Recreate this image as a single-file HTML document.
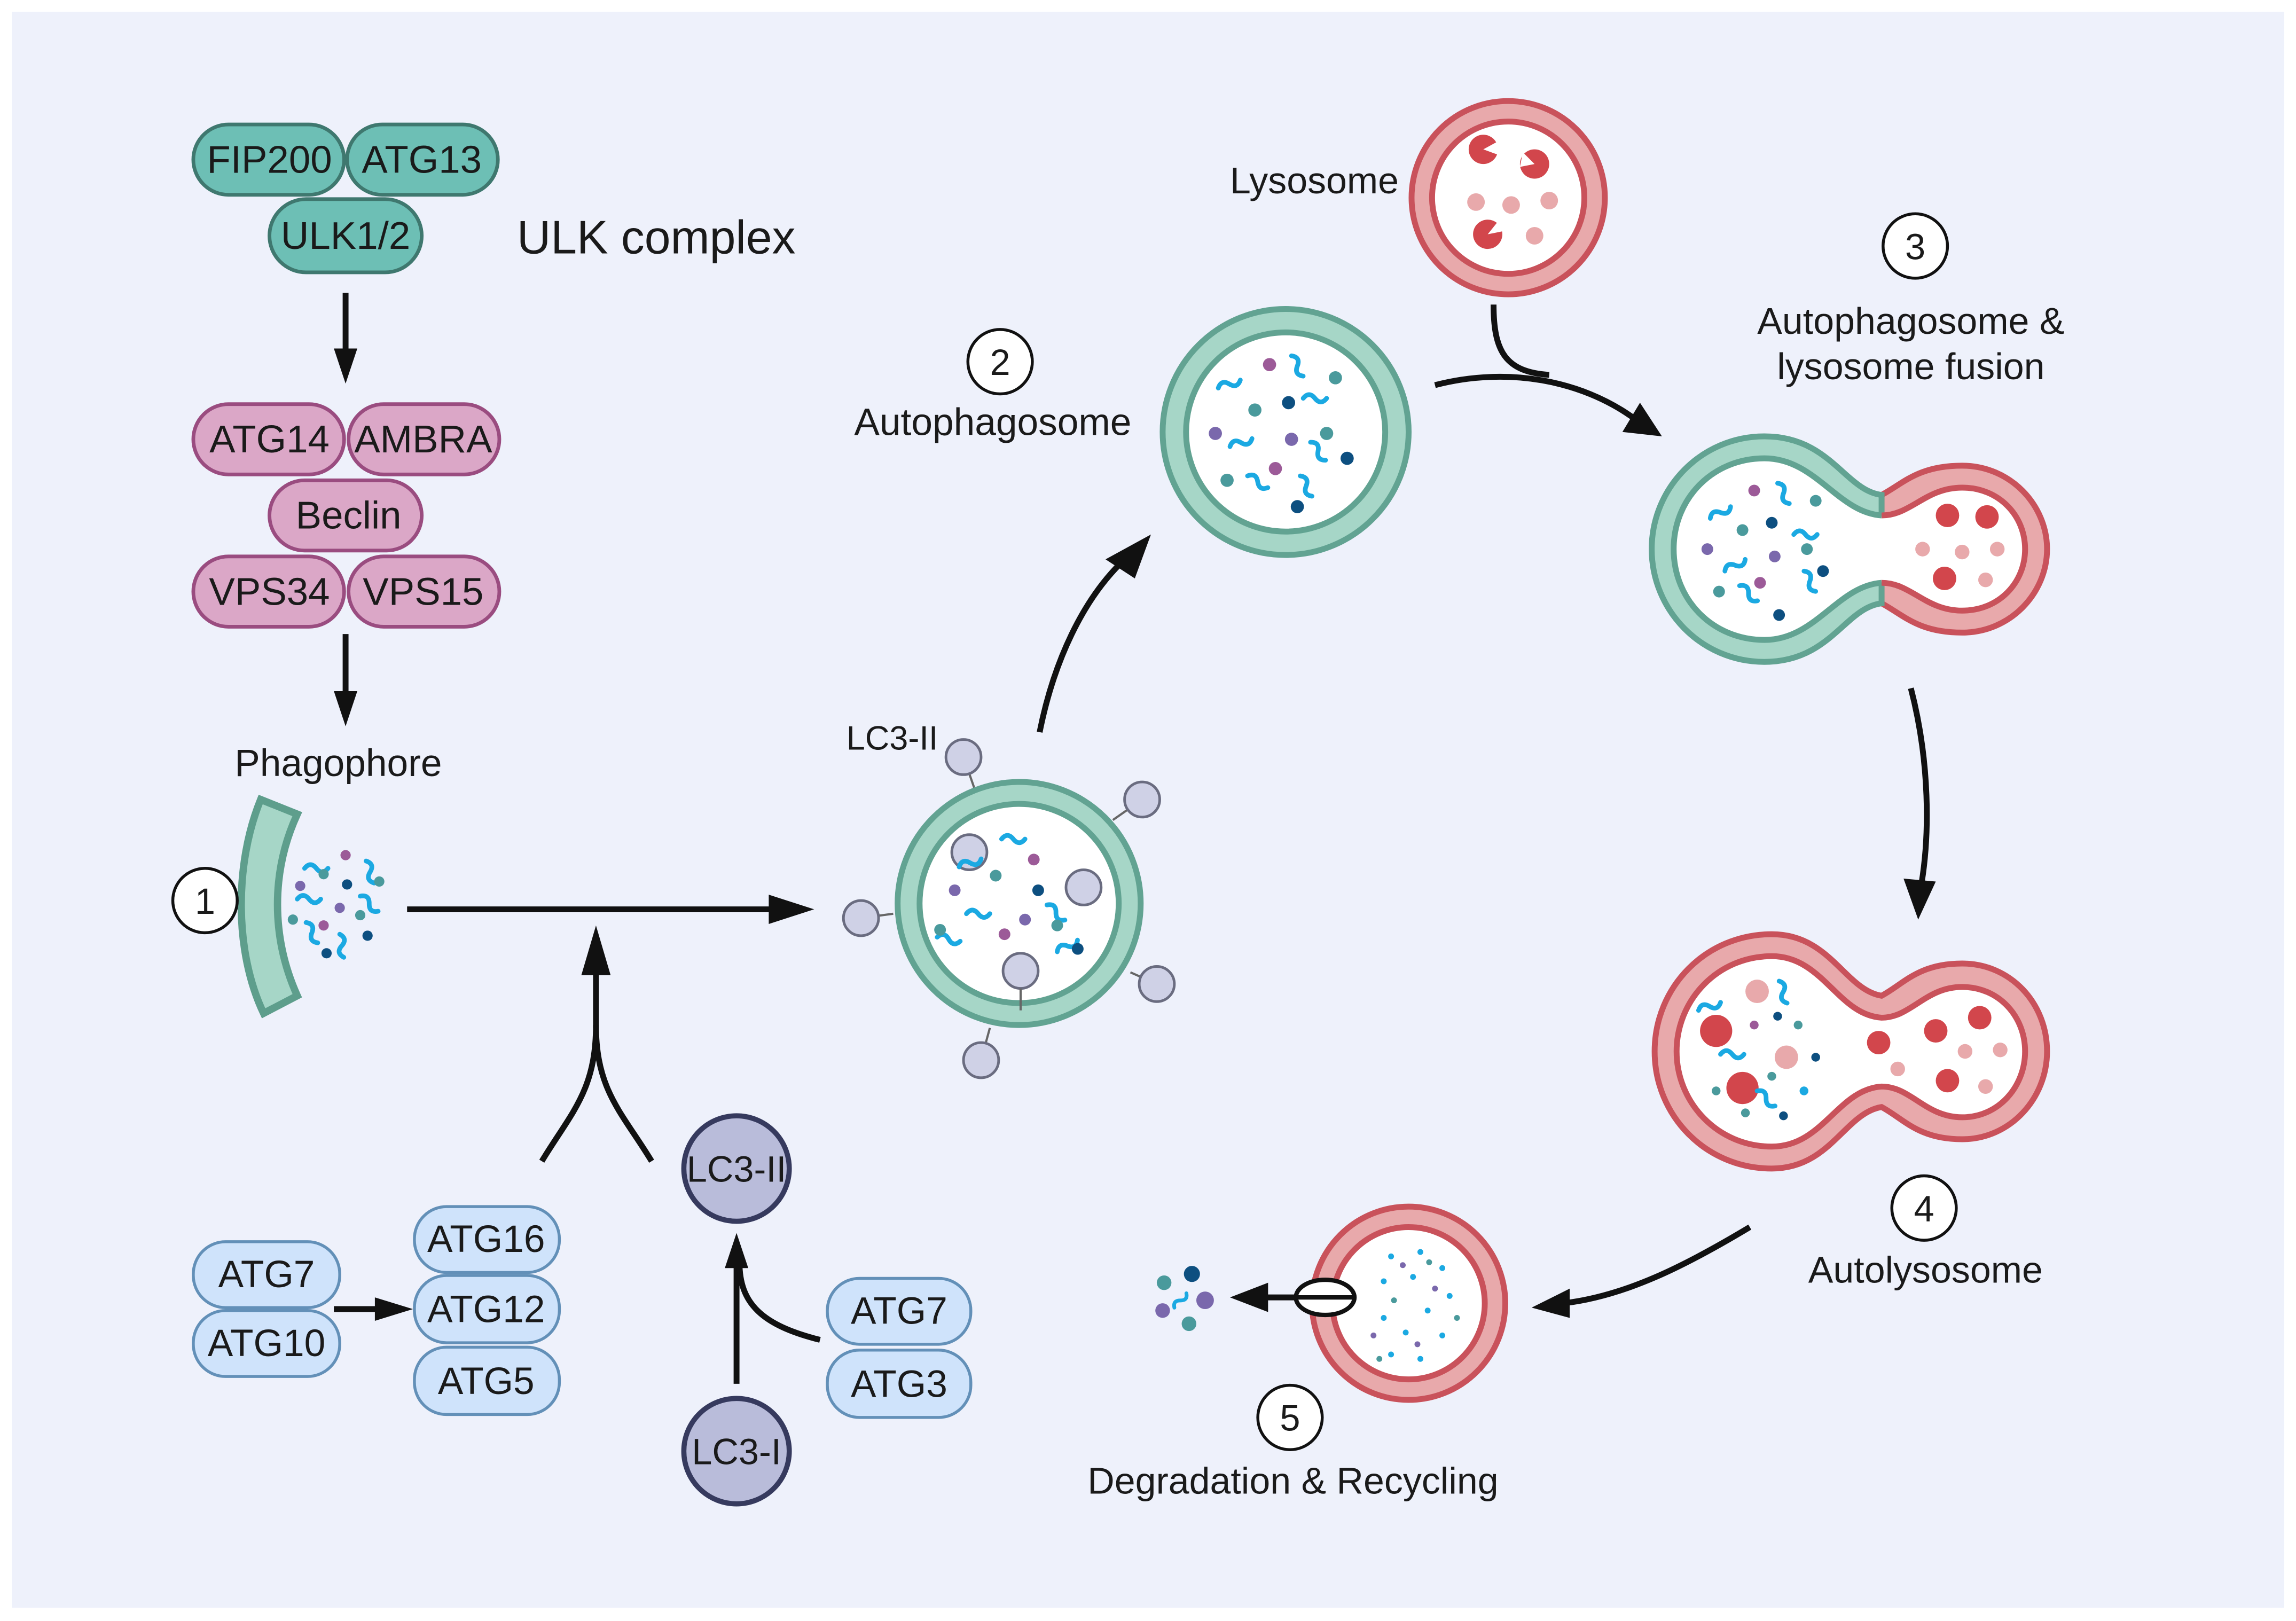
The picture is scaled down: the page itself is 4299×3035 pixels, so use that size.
<!DOCTYPE html>
<html><head><meta charset="utf-8"><style>
html,body{margin:0;padding:0;background:#fff;}
svg{display:block;}
text{font-family:"Liberation Sans",sans-serif;fill:#1a1a1a;}
</style></head><body>
<svg width="4299" height="3035" viewBox="0 0 1568 1107" xmlns="http://www.w3.org/2000/svg">
<defs>
<g id="sq"><path d="M0,0 q4,-5 8,0 t8,0" fill="none" stroke="#1ba9e2" stroke-width="3.2" stroke-linecap="round"/></g>
</defs>
<rect x="0" y="0" width="1568" height="1107" fill="#fff"/>
<rect x="8" y="8" width="1552" height="1090" fill="#eef1fb"/>

<!-- ULK complex -->
<g stroke="#3f786f" stroke-width="2.5" fill="#6dbfb5">
<rect x="132" y="85" width="103" height="48" rx="24"/>
<rect x="237" y="85" width="103" height="48" rx="24"/>
<rect x="184" y="136" width="104" height="50" rx="25"/>
</g>
<g font-size="26.5" text-anchor="middle">
<text x="184" y="118">FIP200</text><text x="288" y="118">ATG13</text><text x="236" y="170">ULK1/2</text>
</g>
<text x="353" y="173" font-size="32">ULK complex</text>

<!-- PI3K complex -->
<g stroke="#9a4c80" stroke-width="2.5" fill="#dba7c7">
<rect x="132" y="276" width="103" height="48" rx="24"/>
<rect x="238" y="276" width="103" height="48" rx="24"/>
<rect x="184" y="328" width="104" height="48" rx="24"/>
<rect x="132" y="380" width="103" height="48" rx="24"/>
<rect x="238" y="380" width="103" height="48" rx="24"/>
</g>
<g font-size="26.5" text-anchor="middle">
<text x="184" y="309">ATG14</text><text x="289" y="309">AMBRA</text><text x="238" y="361">Beclin</text>
<text x="184" y="413">VPS34</text><text x="289" y="413">VPS15</text>
</g>

<!-- arrows -->
<g stroke="#111" stroke-width="4" fill="none">
<line x1="236" y1="200" x2="236" y2="240"/>
<line x1="236" y1="433" x2="236" y2="476"/>
<line x1="278" y1="621" x2="530" y2="621"/>
<line x1="407" y1="702" x2="407" y2="660"/>
<path d="M370,793 C390,760 407,745 407,700"/>
<path d="M445,793 C425,760 407,745 407,700"/>
<line x1="228" y1="894" x2="262" y2="894"/>
<line x1="503" y1="945" x2="503" y2="862"/>
<path d="M560,915 C520,905 505,890 505,862"/>
<path d="M710,500 C720,450 740,410 765,385"/>
<path d="M980,263 C1030,250 1080,260 1115,285"/>
<path d="M1020,208 C1020,240 1028,254 1058,256"/>
<path d="M1305,470 C1318,520 1318,570 1312,605"/>
<path d="M1195,838 C1150,865 1110,885 1068,890"/>
<line x1="930" y1="886" x2="860" y2="886"/>
</g>
<g fill="#111">
<polygon points="228,238 244,238 236,262"/>
<polygon points="228,472 244,472 236,496"/>
<polygon points="525,611 525,631 556,621"/>
<polygon points="397,666 417,666 407,632"/>
<polygon points="256,886 256,902 282,894"/>
<polygon points="495,866 511,866 503,842"/>
<polygon points="755,382 775,395 786,365"/>
<polygon points="1108,295 1120,275 1135,298"/>
<polygon points="1300,600 1322,602 1310,628"/>
<polygon points="1072,880 1072,900 1046,893"/>
<polygon points="866,876 866,896 840,886"/>
</g>

<text x="231" y="530" font-size="26" text-anchor="middle">Phagophore</text>
<!-- phagophore -->
<path d="M178,546 C160,590 160,650 180,692 L203,680 C185,640 185,595 203,556 Z" fill="#a6d6c7" stroke="#5e9e8c" stroke-width="5"/>
<g>
<use href="#sq" x="208" y="593"/><use href="#sq" x="203" y="614"/><use href="#sq" transform="translate(250,588) rotate(70)"/>
<use href="#sq" transform="translate(246,612) rotate(40)"/><use href="#sq" transform="translate(209,630) rotate(60)"/><use href="#sq" transform="translate(232,638) rotate(80)"/>
<circle cx="236" cy="584" r="3.5" fill="#9c5a98"/><circle cx="221" cy="597" r="3.5" fill="#4a9a9c"/><circle cx="237" cy="604" r="3.5" fill="#0d4f80"/>
<circle cx="205" cy="605" r="3.5" fill="#7a68ac"/><circle cx="259" cy="602" r="3.5" fill="#4a9a9c"/><circle cx="232" cy="620" r="3.5" fill="#7a68ac"/>
<circle cx="200" cy="628" r="3.5" fill="#4a9a9c"/><circle cx="246" cy="625" r="3.5" fill="#4a9a9c"/><circle cx="221" cy="632" r="3.5" fill="#9c5a98"/>
<circle cx="251" cy="639" r="3.5" fill="#0d4f80"/><circle cx="223" cy="651" r="3.5" fill="#0d4f80"/>
</g>

<!-- numbered circles -->
<g fill="#fff" stroke="#111" stroke-width="2">
<circle cx="140" cy="615" r="22"/><circle cx="683" cy="247" r="22"/><circle cx="1308" cy="168" r="22"/>
<circle cx="1314" cy="825" r="22"/><circle cx="881" cy="968" r="22"/>
</g>
<g font-size="25" text-anchor="middle">
<text x="140" y="624">1</text><text x="683" y="256">2</text><text x="1308" y="177">3</text>
<text x="1314" y="834">4</text><text x="881" y="977">5</text>
</g>

<!-- ATG blue pills -->
<g stroke="#6390b8" stroke-width="2" fill="#cfe3fb">
<rect x="132" y="848" width="100" height="45" rx="22"/>
<rect x="132" y="895" width="100" height="45" rx="22"/>
<rect x="283" y="824" width="99" height="45" rx="22"/>
<rect x="283" y="871" width="99" height="46" rx="22"/>
<rect x="283" y="920" width="99" height="46" rx="22"/>
<rect x="565" y="873" width="98" height="45" rx="22"/>
<rect x="565" y="922" width="98" height="46" rx="22"/>
</g>
<g font-size="26" text-anchor="middle">
<text x="182" y="879">ATG7</text><text x="182" y="926">ATG10</text>
<text x="332" y="855">ATG16</text><text x="332" y="903">ATG12</text><text x="332" y="952">ATG5</text>
<text x="614" y="904">ATG7</text><text x="614" y="954">ATG3</text>
</g>
<g fill="#b9bcda" stroke="#363a5e" stroke-width="3.5">
<circle cx="503" cy="798" r="36"/><circle cx="503" cy="991" r="36"/>
</g>
<g font-size="25" text-anchor="middle"><text x="503" y="807">LC3-II</text><text x="503" y="1000">LC3-I</text></g>

<!-- LC3-II vesicle -->
<g stroke="#666" stroke-width="1.5">
<line x1="658" y1="517" x2="666" y2="540"/><line x1="780" y1="546" x2="760" y2="560"/>
<line x1="588" y1="627" x2="610" y2="624"/><line x1="790" y1="672" x2="772" y2="664"/>
<line x1="670" y1="724" x2="676" y2="702"/>
</g>
<circle cx="696" cy="617" r="83" fill="#a6d6c7" stroke="#62a392" stroke-width="4"/>
<circle cx="696" cy="617" r="68" fill="#fff" stroke="#62a392" stroke-width="4"/>
<g fill="#cfd1e6" stroke="#6a6c80" stroke-width="1.8">
<circle cx="658" cy="517" r="12"/><circle cx="780" cy="546" r="12"/><circle cx="588" cy="627" r="12"/>
<circle cx="790" cy="672" r="12"/><circle cx="670" cy="724" r="12"/>
<circle cx="662" cy="582" r="12"/><circle cx="740" cy="606" r="12"/><circle cx="697" cy="663" r="12"/>
</g>
<line x1="697" y1="675" x2="697" y2="690" stroke="#666" stroke-width="1.5"/>
<text x="578" y="512" font-size="23">LC3-II</text>
<g>
<use href="#sq" x="684" y="573"/><use href="#sq" transform="translate(655,592) rotate(-20)"/><use href="#sq" x="660" y="624"/>
<use href="#sq" transform="translate(715,618) rotate(40)"/><use href="#sq" transform="translate(640,640) rotate(10)"/><use href="#sq" transform="translate(722,650) rotate(-30)"/>
<circle cx="706" cy="587" r="4" fill="#9c5a98"/><circle cx="680" cy="598" r="4" fill="#4a9a9c"/><circle cx="709" cy="608" r="4" fill="#0d4f80"/>
<circle cx="652" cy="608" r="4" fill="#7a68ac"/><circle cx="722" cy="632" r="4" fill="#4a9a9c"/><circle cx="700" cy="628" r="4" fill="#7a68ac"/>
<circle cx="642" cy="635" r="4" fill="#4a9a9c"/><circle cx="686" cy="638" r="4" fill="#9c5a98"/><circle cx="736" cy="648" r="4" fill="#0d4f80"/>
</g>

<!-- Autophagosome -->
<text x="678" y="297" font-size="26" text-anchor="middle">Autophagosome</text>
<circle cx="878" cy="295" r="84" fill="#a6d6c7" stroke="#62a392" stroke-width="4"/>
<circle cx="878" cy="295" r="68" fill="#fff" stroke="#62a392" stroke-width="4"/>
<g>
<use href="#sq" transform="translate(882,243) rotate(60)"/><use href="#sq" transform="translate(832,265) rotate(-20)"/><use href="#sq" x="890" y="272"/>
<use href="#sq" transform="translate(840,305) rotate(-20)"/><use href="#sq" transform="translate(895,302) rotate(50)"/><use href="#sq" transform="translate(852,325) rotate(30)"/><use href="#sq" transform="translate(888,325) rotate(60)"/>
<circle cx="867" cy="249" r="4.5" fill="#9c5a98"/><circle cx="912" cy="258" r="4.5" fill="#4a9a9c"/><circle cx="880" cy="275" r="4.5" fill="#0d4f80"/>
<circle cx="857" cy="280" r="4.5" fill="#4a9a9c"/><circle cx="830" cy="296" r="4.5" fill="#7a68ac"/><circle cx="882" cy="300" r="4.5" fill="#7a68ac"/>
<circle cx="906" cy="296" r="4.5" fill="#4a9a9c"/><circle cx="920" cy="313" r="4.5" fill="#0d4f80"/><circle cx="871" cy="320" r="4.5" fill="#9c5a98"/>
<circle cx="838" cy="328" r="4.5" fill="#4a9a9c"/><circle cx="886" cy="346" r="4.5" fill="#0d4f80"/>
</g>

<!-- Lysosome -->
<text x="840" y="132" font-size="25.5">Lysosome</text>
<circle cx="1030" cy="135" r="66" fill="#e8a9ab" stroke="#c9525b" stroke-width="4"/>
<circle cx="1030" cy="135" r="52" fill="#fff" stroke="#c9525b" stroke-width="4"/>
<g fill="#d2464c">
<circle cx="1013" cy="102" r="10"/>
<circle cx="1048" cy="112" r="10"/><circle cx="1016" cy="160" r="10"/>
</g>
<g fill="#e8a9ab"><circle cx="1032" cy="140" r="6"/><circle cx="1058" cy="137" r="6"/><circle cx="1048" cy="161" r="6"/><circle cx="1008" cy="138" r="6"/></g>
<g fill="#fff"><polygon points="1013,102 1024,96 1024,106"/><polygon points="1048,112 1040,104 1038,114"/><polygon points="1016,160 1024,150 1026,158"/></g>

<text x="1305" y="228" font-size="25.5" text-anchor="middle">Autophagosome &amp;</text>
<text x="1305" y="259" font-size="25.5" text-anchor="middle">lysosome fusion</text>

<!-- fusion shape -->
<path d="M1285,338 C1300,330 1310,318 1340,318 C1373,318 1398,345 1398,375 C1398,405 1373,432 1340,432 C1310,432 1300,420 1285,412 Z" fill="#e8a9ab" stroke="#c9525b" stroke-width="4"/>
<path d="M1285,338 C1260,335 1250,298 1205,298 C1162,298 1128,333 1128,375 C1128,417 1162,452 1205,452 C1250,452 1260,415 1285,412 Z" fill="#a6d6c7" stroke="#62a392" stroke-width="4"/>
<path d="M1205,313 C1240,313 1255,350 1285,352 C1305,352 1315,333 1340,333 C1365,333 1383,352 1383,375 C1383,398 1365,417 1340,417 C1315,417 1305,398 1285,398 C1255,400 1240,437 1205,437 C1170,437 1143,410 1143,375 C1143,340 1170,313 1205,313 Z" fill="#fff" stroke="none"/>
<path d="M1285,352 C1255,350 1240,313 1205,313 C1170,313 1143,340 1143,375 C1143,410 1170,437 1205,437 C1240,437 1255,400 1285,398" fill="none" stroke="#62a392" stroke-width="4"/>
<path d="M1285,352 C1305,352 1315,333 1340,333 C1365,333 1383,352 1383,375 C1383,398 1365,417 1340,417 C1315,417 1305,398 1285,398" fill="none" stroke="#c9525b" stroke-width="4"/>
<g>
<use href="#sq" transform="translate(1214,330) rotate(60)"/><use href="#sq" transform="translate(1168,354) rotate(-30)"/><use href="#sq" x="1225" y="365"/>
<use href="#sq" transform="translate(1178,390) rotate(-30)"/><use href="#sq" transform="translate(1232,390) rotate(60)"/><use href="#sq" transform="translate(1188,400) rotate(40)"/>
<circle cx="1198" cy="335" r="4" fill="#9c5a98"/><circle cx="1240" cy="342" r="4" fill="#4a9a9c"/><circle cx="1210" cy="357" r="4" fill="#0d4f80"/>
<circle cx="1190" cy="362" r="4" fill="#4a9a9c"/><circle cx="1166" cy="375" r="4" fill="#7a68ac"/><circle cx="1212" cy="380" r="4" fill="#7a68ac"/>
<circle cx="1234" cy="375" r="4" fill="#4a9a9c"/><circle cx="1245" cy="390" r="4" fill="#0d4f80"/><circle cx="1202" cy="398" r="4" fill="#9c5a98"/>
<circle cx="1174" cy="404" r="4" fill="#4a9a9c"/><circle cx="1215" cy="420" r="4" fill="#0d4f80"/>
<circle cx="1330" cy="352" r="8" fill="#d2464c"/><circle cx="1357" cy="353" r="8" fill="#d2464c"/><circle cx="1328" cy="395" r="8" fill="#d2464c"/>
<circle cx="1313" cy="375" r="5" fill="#e8a9ab"/><circle cx="1340" cy="377" r="5" fill="#e8a9ab"/><circle cx="1364" cy="375" r="5" fill="#e8a9ab"/><circle cx="1356" cy="396" r="5" fill="#e8a9ab"/>
</g>

<!-- Autolysosome -->
<path d="M1285,680 C1300,672 1310,658 1340,658 C1373,658 1398,685 1398,718 C1398,750 1373,778 1340,778 C1310,778 1300,764 1285,756 C1260,760 1250,798 1210,798 C1165,798 1130,762 1130,718 C1130,674 1165,638 1210,638 C1250,638 1260,676 1285,680 Z" fill="#e8a9ab" stroke="#c9525b" stroke-width="4"/>
<path d="M1285,695 C1305,695 1315,674 1340,674 C1365,674 1383,694 1383,718 C1383,742 1365,763 1340,763 C1315,763 1305,742 1285,742 C1255,744 1245,783 1210,783 C1173,783 1145,753 1145,718 C1145,683 1173,653 1210,653 C1245,653 1255,693 1285,695 Z" fill="#fff" stroke="#c9525b" stroke-width="4"/>
<g>
<circle cx="1172" cy="704" r="11" fill="#d2464c"/><circle cx="1190" cy="743" r="11" fill="#d2464c"/><circle cx="1220" cy="722" r="8" fill="#e8a9ab"/><circle cx="1200" cy="677" r="8" fill="#e8a9ab"/>
<circle cx="1283" cy="712" r="8" fill="#d2464c"/><circle cx="1322" cy="704" r="8" fill="#d2464c"/><circle cx="1352" cy="695" r="8" fill="#d2464c"/><circle cx="1330" cy="738" r="8" fill="#d2464c"/>
<circle cx="1296" cy="730" r="5" fill="#e8a9ab"/><circle cx="1342" cy="718" r="5" fill="#e8a9ab"/><circle cx="1366" cy="717" r="5" fill="#e8a9ab"/><circle cx="1356" cy="742" r="5" fill="#e8a9ab"/>
<use href="#sq" transform="translate(1160,690) rotate(-20)"/><use href="#sq" x="1175" y="720"/><use href="#sq" transform="translate(1215,670) rotate(70)"/><use href="#sq" transform="translate(1200,745) rotate(40)"/>
<circle cx="1214" cy="694" r="3" fill="#0d4f80"/><circle cx="1228" cy="700" r="3" fill="#4a9a9c"/><circle cx="1198" cy="700" r="3" fill="#9c5a98"/>
<circle cx="1240" cy="722" r="3" fill="#0d4f80"/><circle cx="1210" cy="735" r="3" fill="#4a9a9c"/><circle cx="1232" cy="745" r="3" fill="#1ba9e2"/>
<circle cx="1218" cy="762" r="3" fill="#0d4f80"/><circle cx="1172" cy="745" r="3" fill="#4a9a9c"/><circle cx="1192" cy="760" r="3" fill="#4a9a9c"/>
</g>
<text x="1315" y="876" font-size="25.5" text-anchor="middle">Autolysosome</text>

<!-- degradation lysosome -->
<circle cx="962" cy="890" r="66" fill="#e8a9ab" stroke="#c9525b" stroke-width="4"/>
<circle cx="962" cy="890" r="52" fill="#fff" stroke="#c9525b" stroke-width="4"/>
<g fill="#1ba9e2">
<circle cx="950" cy="858" r="2"/><circle cx="970" cy="855" r="2"/><circle cx="985" cy="866" r="2"/><circle cx="945" cy="875" r="2"/>
<circle cx="965" cy="872" r="2"/><circle cx="990" cy="885" r="2"/><circle cx="975" cy="895" r="2"/><circle cx="945" cy="900" r="2"/>
<circle cx="960" cy="910" r="2"/><circle cx="985" cy="912" r="2"/><circle cx="950" cy="925" r="2"/><circle cx="970" cy="928" r="2"/>
</g>
<g fill="#7a68ac"><circle cx="958" cy="864" r="2"/><circle cx="980" cy="880" r="2"/><circle cx="938" cy="912" r="2"/><circle cx="968" cy="918" r="2"/></g>
<g fill="#4a9a9c"><circle cx="976" cy="862" r="2"/><circle cx="952" cy="888" r="2"/><circle cx="995" cy="900" r="2"/><circle cx="942" cy="928" r="2"/></g>
<ellipse cx="905" cy="886" rx="20" ry="12" fill="#fff" stroke="#111" stroke-width="3"/>
<line x1="885" y1="886" x2="925" y2="886" stroke="#111" stroke-width="3"/>
<g>
<circle cx="814" cy="870" r="5.5" fill="#0d4f80"/><circle cx="795" cy="876" r="5" fill="#4a9a9c"/><circle cx="823" cy="888" r="6" fill="#7a68ac"/>
<circle cx="794" cy="895" r="5" fill="#7a68ac"/><circle cx="812" cy="904" r="5" fill="#4a9a9c"/>
<use href="#sq" transform="translate(802,893) rotate(-50) scale(0.8)"/>
</g>
<text x="883" y="1020" font-size="25.5" text-anchor="middle">Degradation &amp; Recycling</text>
</svg>
</body></html>
